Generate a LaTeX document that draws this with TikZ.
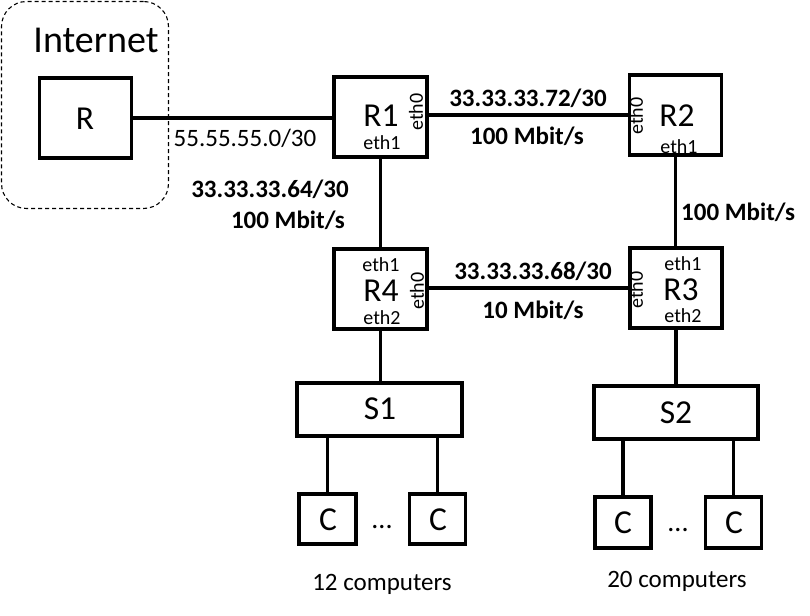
\documentclass[tikz,border=0pt]{standalone}
\usepackage{fontspec}
\setmainfont{Carlito}
\begin{document}
\begin{tikzpicture}[x=1pt,y=-1pt,
  box/.style={draw,line width=3.5pt,inner sep=0pt},
  big/.style={inner sep=0pt,font=\fontsize{33.5}{36}\selectfont},
  small/.style={inner sep=0pt,font=\fontsize{20}{22}\selectfont},
  lbl/.style={inner sep=0pt,font=\fontsize{25}{28}\selectfont\bfseries},
  lblr/.style={inner sep=0pt,font=\fontsize{25}{28}\selectfont},
  link/.style={line width=3.5pt}]
\useasboundingbox (0,0) rectangle (810,615);
% Internet cloud
\node[draw,rounded corners=25pt,line width=1.1pt,dash pattern=on 4pt off 3pt,
      minimum width=167pt,minimum height=207pt] (inet) at (85,105) {};
\node[inner sep=0pt,font=\fontsize{38}{40}\selectfont] (inettxt) at (96,40) {Internet};
% boxes
\node[box,minimum width=92pt,minimum height=80pt] (R) at (85.5,118) {};
\node[big] (Rt) at (85,119) {R};
\node[box,minimum width=93pt,minimum height=80pt] (R1) at (380.5,117) {};
\node[box,minimum width=92pt,minimum height=80pt] (R2) at (675.5,115) {};
\node[box,minimum width=93pt,minimum height=80pt] (R4) at (380.5,289) {};
\node[box,minimum width=92pt,minimum height=80pt] (R3) at (676,288) {};
\node[box,minimum width=165pt,minimum height=53pt] (S1) at (379.5,409.5) {};
\node[box,minimum width=164pt,minimum height=53pt] (S2) at (676,412.5) {};
\node[box,minimum width=57pt,minimum height=50pt] (C1) at (327.5,519) {};
\node[box,minimum width=56pt,minimum height=50pt] (C2) at (437.5,519) {};
\node[box,minimum width=56pt,minimum height=51pt] (C3) at (623,522.5) {};
\node[box,minimum width=56pt,minimum height=51pt] (C4) at (733.5,522.5) {};
% box texts
\node[big] (R1t) at (381,116) {R1};
\node[small] (R1e1) at (382,143) {eth1};
\node[small,rotate=90] (R1e0) at (416,112) {eth0};
\node[big] (R2t) at (677,116) {R2};
\node[small] (R2e1) at (679,147) {eth1};
\node[small,rotate=90] (R2e0) at (636,116) {eth0};
\node[big] (R4t) at (381,291) {R4};
\node[small] (R4e1) at (381,265) {eth1};
\node[small] (R4e2) at (382,318) {eth2};
\node[small,rotate=90] (R4e0) at (417,291) {eth0};
\node[big] (R3t) at (681,290) {R3};
\node[small] (R3e1) at (683,264) {eth1};
\node[small] (R3e2) at (683,316) {eth2};
\node[small,rotate=90] (R3e0) at (636,290) {eth0};
\node[big] (S1t) at (380,409) {S1};
\node[big] (S2t) at (676,413) {S2};
\node[big] (C1t) at (328,520) {C};
\node[big] (C2t) at (438,520) {C};
\node[big] (C3t) at (623,523) {C};
\node[big] (C4t) at (734,523) {C};
\node[inner sep=0pt,font=\fontsize{28}{30}\selectfont] (d1) at (382,527) {...};
\node[inner sep=0pt,font=\fontsize{28}{30}\selectfont] (d2) at (678,530) {...};
% links
\draw[link] (R.east) -- (R.east -| R1.west);
\draw[link] (R1.east |- R2.west) -- (R2.west);
\draw[link] (R1.south) -- (R4.north);
\draw[link] (R2.south) -- (R3.north -| R2.south);
\draw[link] (R4.east |- R3.west) -- (R3.west);
\draw[link] (R4.south) -- (R4.south |- S1.north);
\draw[link] (R3.south) -- (R3.south |- S2.north);
\draw[link] (C1.north |- S1.south) -- (C1.north);
\draw[link] (C2.north |- S1.south) -- (C2.north);
\draw[link] (C3.north |- S2.south) -- (C3.north);
\draw[link] (C4.north |- S2.south) -- (C4.north);
% labels
\node[lblr] (l1) at (245,138) {55.55.55.0/30};
\node[lbl] (l2) at (528,98) {33.33.33.72/30};
\node[lbl] (l3) at (527,136) {100 Mbit/s};
\node[lbl] (l4) at (270,189) {33.33.33.64/30};
\node[lbl,anchor=east] (l5) at (345,220) {100 Mbit/s};
\node[lbl,anchor=west] (l6) at (681,212) {100 Mbit/s};
\node[lbl] (l7) at (533,271) {33.33.33.68/30};
\node[lbl] (l8) at (533,310) {10 Mbit/s};
\node[lblr] (n1) at (382,584) {12 computers};
\node[lblr] (n2) at (677,581) {20 computers};
\end{tikzpicture}
\end{document}
